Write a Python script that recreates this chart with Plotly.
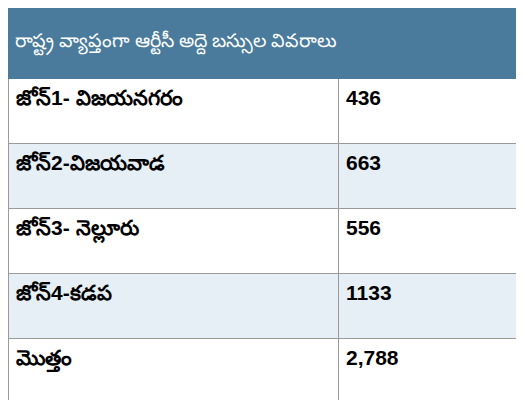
import plotly.graph_objects as go

title = "రాష్ట్ర వ్యాప్తంగా ఆర్టీసీ అద్దె బస్సుల వివరాలు"
zones = ["జోన్1- విజయనగరం", "జోన్2-విజయవాడ", "జోన్3- నెల్లూరు", "జోన్4-కడప", "మొత్తం"]
counts = ["436", "663", "556", "1133", "2,788"]

fills = ["white", "#e6eff6", "white", "#e6eff6", "white"]

fig = go.Figure(go.Table(
    columnwidth=[330, 194],
    header=dict(values=["", ""], fill_color="#4a7b9d", line_color="#4a7b9d",
                font=dict(color="white", size=20), align="left", height=70),
    cells=dict(values=[["<b>" + z + "</b>" for z in zones], ["<b>" + c + "</b>" for c in counts]],
               fill_color=[fills, fills], line_color="#9a9a9a",
               font=dict(color="black", size=21, family="Liberation Sans, Noto Sans"),
               align="left", height=65),
    domain=dict(x=[0, 1], y=[0, 1]),
))
fig.add_annotation(text=title, x=0.01, y=1 - 34 / 400, xref="paper", yref="paper",
                   xanchor="left", yanchor="middle", showarrow=False,
                   font=dict(color="white", size=19, family="Noto Sans"))
fig.update_layout(width=524, height=400, margin=dict(l=0, r=0, t=0, b=0), paper_bgcolor="white")
fig.write_html("out.html")
